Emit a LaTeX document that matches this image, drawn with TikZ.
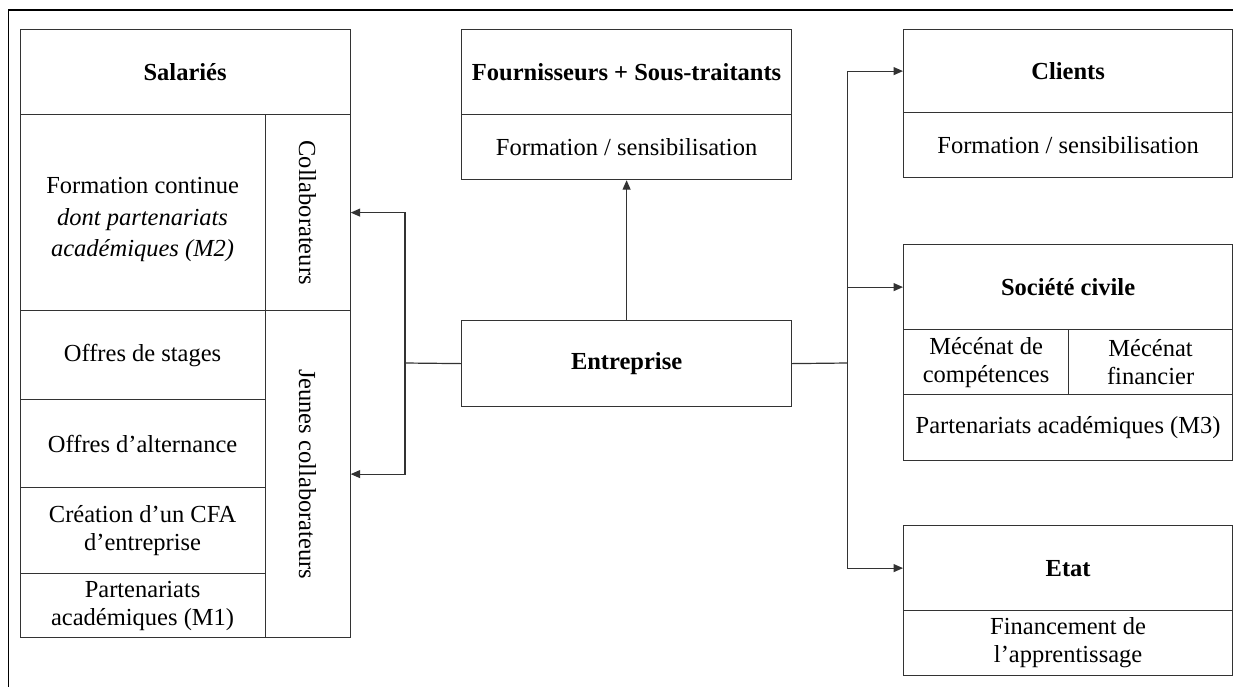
\documentclass[tikz,border=0pt]{standalone}
\usepackage{fontspec}
\setmainfont{Liberation Serif}
\usetikzlibrary{arrows.meta}

\begin{document}
\begin{tikzpicture}[x=1pt,y=-1pt,
  cell/.style={draw=black!80, line width=1.2pt, rectangle, inner sep=0pt,
    anchor=north west, align=center,
    font=\fontsize{24.5}{28}\selectfont},
  head/.style={cell, font=\fontsize{24.5}{28}\selectfont\bfseries},
  txt/.style={inner sep=0pt, align=center, font=\fontsize{24.5}{28}\selectfont},
  link/.style={draw=black!80, line width=1.2pt},
  arr/.style={link, -{Triangle[length=9.5pt,width=8pt]}}
]
\useasboundingbox (0,0) rectangle (1233,686);

% outer frame
\draw[line width=1.8pt] (8.5,700) -- (8.5,10) -- (1245,10);

% Salariés column
\node[head, minimum width=330pt, minimum height=85pt] (sal) at (19.5,29) {Salariés};
\node[cell, minimum width=245pt, minimum height=196pt] (formcont) at (19.5,114) {};
\node[txt] (formtxt) at ([yshift=-7pt]formcont.center)
  {Formation continue\\[3.5pt] \itshape dont partenariats\\[3.5pt] \itshape académiques (M2)};
\node[cell, minimum width=85pt, minimum height=196pt] (collab) at (264.5,114) {};
\node[txt, rotate=-90] (collabtxt) at (collab.center) {Collaborateurs};
\node[cell, minimum width=245pt, minimum height=89pt] (stages) at (19.5,310) {Offres de stages};
\node[cell, minimum width=245pt, minimum height=88pt] (altern) at (19.5,399) {Offres d’alternance};
\node[cell, minimum width=245pt, minimum height=86pt] (cfa) at (19.5,487) {Création d’un CFA\\d’entreprise};
\node[cell, minimum width=245pt, minimum height=64pt] (partm1) at (19.5,573) {Partenariats\\académiques (M1)};
\node[cell, minimum width=85pt, minimum height=327pt] (jeunes) at (264.5,310) {};
\node[txt, rotate=-90] (jeunestxt) at (jeunes.center) {Jeunes collaborateurs};

% Fournisseurs
\node[head, minimum width=330pt, minimum height=85pt] (four) at (461,29) {Fournisseurs + Sous-traitants};
\node[cell, minimum width=330pt, minimum height=65pt] (fourf) at (461,114) {Formation / sensibilisation};

% Entreprise
\node[head, minimum width=330pt, minimum height=86pt] (entr) at (461,320) {Entreprise};

% Clients
\node[head, minimum width=329pt, minimum height=83pt] (cli) at (903,29) {Clients};
\node[cell, minimum width=329pt, minimum height=65pt] (clif) at (903,112) {Formation / sensibilisation};

% Société civile
\node[head, minimum width=329pt, minimum height=85pt] (soc) at (903,244) {Société civile};
\node[cell, minimum width=165pt, minimum height=65pt] (mcomp) at (903,329) {Mécénat de\\compétences};
\node[cell, minimum width=164pt, minimum height=65pt] (mfin) at (1068,329) {Mécénat\\financier};
\node[cell, minimum width=329pt, minimum height=66pt] (m3) at (903,394) {Partenariats académiques (M3)};

% Etat
\node[head, minimum width=329pt, minimum height=85pt] (etat) at (903,525) {Etat};
\node[cell, minimum width=329pt, minimum height=65pt] (fin) at (903,610) {Financement de\\l’apprentissage};

% connectors
\coordinate (lj) at (405,363);
\coordinate (rj) at (847.5,363);
\draw[link] (entr.west) -- (lj);
\draw[arr] (lj) |- (collab.east);
\draw[arr] (lj) |- (jeunes.east);
\draw[arr] (entr.north) -- (fourf.south);
\draw[link] (entr.east) -- (rj);
\draw[arr] (rj) |- (cli.west);
\draw[arr] (rj) |- (soc.west);
\draw[arr] (rj) |- (etat.west);
\end{tikzpicture}
\end{document}
